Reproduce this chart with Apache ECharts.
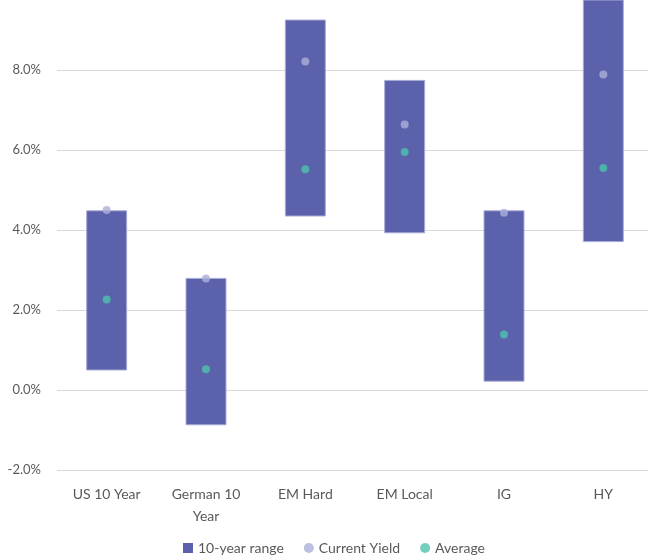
<!DOCTYPE html>
<html>
<head>
<meta charset="utf-8">
<script src="https://cdn.jsdelivr.net/npm/echarts@6/dist/echarts.min.js"></script>
<style>
	html, body { margin: 0; padding: 0; width: 100%; height: 100%; background: #fff; overflow: hidden; }
	#chart { width: 660px; height: 556px; }
</style>
</head>
<body>
<div id="chart"></div>
<script>
	// 分类与数据
	var categories = ['US 10 Year', 'German 10\nYear', 'EM Hard', 'EM Local', 'IG', 'HY'];
	var rangeLow = [0.50, -0.87, 4.35, 3.93, 0.22, 3.71];
	var rangeHigh = [4.48, 2.79, 9.25, 7.74, 4.48, 9.75];
	var currentYield = [4.50, 2.79, 8.21, 6.64, 4.43, 7.89];
	var average = [2.26, 0.52, 5.52, 5.95, 1.39, 5.55];

	var chart = echarts.init(document.getElementById('chart'));
	var font = 'Lato, "Noto Sans", sans-serif';

	var rangeData = categories.map(function (c, i) {
		return [i, rangeLow[i], rangeHigh[i]];
	});

	var option = {
		animation: false,
		textStyle: { fontFamily: font },
		grid: { left: 57, right: 7, top: 0, bottom: 86 },
		legend: {
			top: 536,
			left: 178,
			itemGap: 20,
			itemWidth: 10,
			itemHeight: 10,
			textStyle: { color: '#595959', fontSize: 14, fontFamily: font },
			data: [
				{ name: '10-year range', icon: 'rect' },
				{ name: 'Current Yield', icon: 'circle' },
				{ name: 'Average', icon: 'circle' }
			]
		},
		xAxis: {
			type: 'category',
			data: categories,
			axisLine: { show: false },
			axisTick: { show: false },
			axisLabel: { color: '#595959', fontSize: 14, margin: 13, lineHeight: 22, interval: 0 }
		},
		yAxis: {
			type: 'value',
			min: -2,
			max: 9.75,
			interval: 2,
			axisLabel: {
				color: '#595959', fontSize: 13, margin: 16, showMaxLabel: false,
				formatter: function (v) { return v.toFixed(1) + '%'; }
			},
			splitLine: { showMaxLine: false, lineStyle: { color: '#d9d9d9', width: 1 } }
		},
		series: [
			{
				name: '10-year range',
				type: 'custom',
				itemStyle: { color: '#5b62ab' },
				renderItem: function (params, api) {
					var x = api.value(0);
					var lo = api.coord([x, api.value(1)]);
					var hi = api.coord([x, api.value(2)]);
					var w = 40;
					return {
						type: 'rect',
						shape: { x: lo[0] - w / 2, y: hi[1], width: w, height: lo[1] - hi[1] },
						style: { fill: '#5b62ab', stroke: '#a9acd6', lineWidth: 1 }
					};
				},
				encode: { x: 0, y: [1, 2] },
				data: rangeData,
				z: 2
			},
			{
				name: 'Current Yield',
				type: 'scatter',
				symbol: 'circle',
				symbolSize: 8,
				itemStyle: { color: '#adafd8' },
				data: currentYield,
				z: 3
			},
			{
				name: 'Average',
				type: 'scatter',
				symbol: 'circle',
				symbolSize: 8,
				itemStyle: { color: '#4cc3ad' },
				data: average,
				z: 3
			}
		]
	};
	chart.setOption(option);
</script>
</body>
</html>
